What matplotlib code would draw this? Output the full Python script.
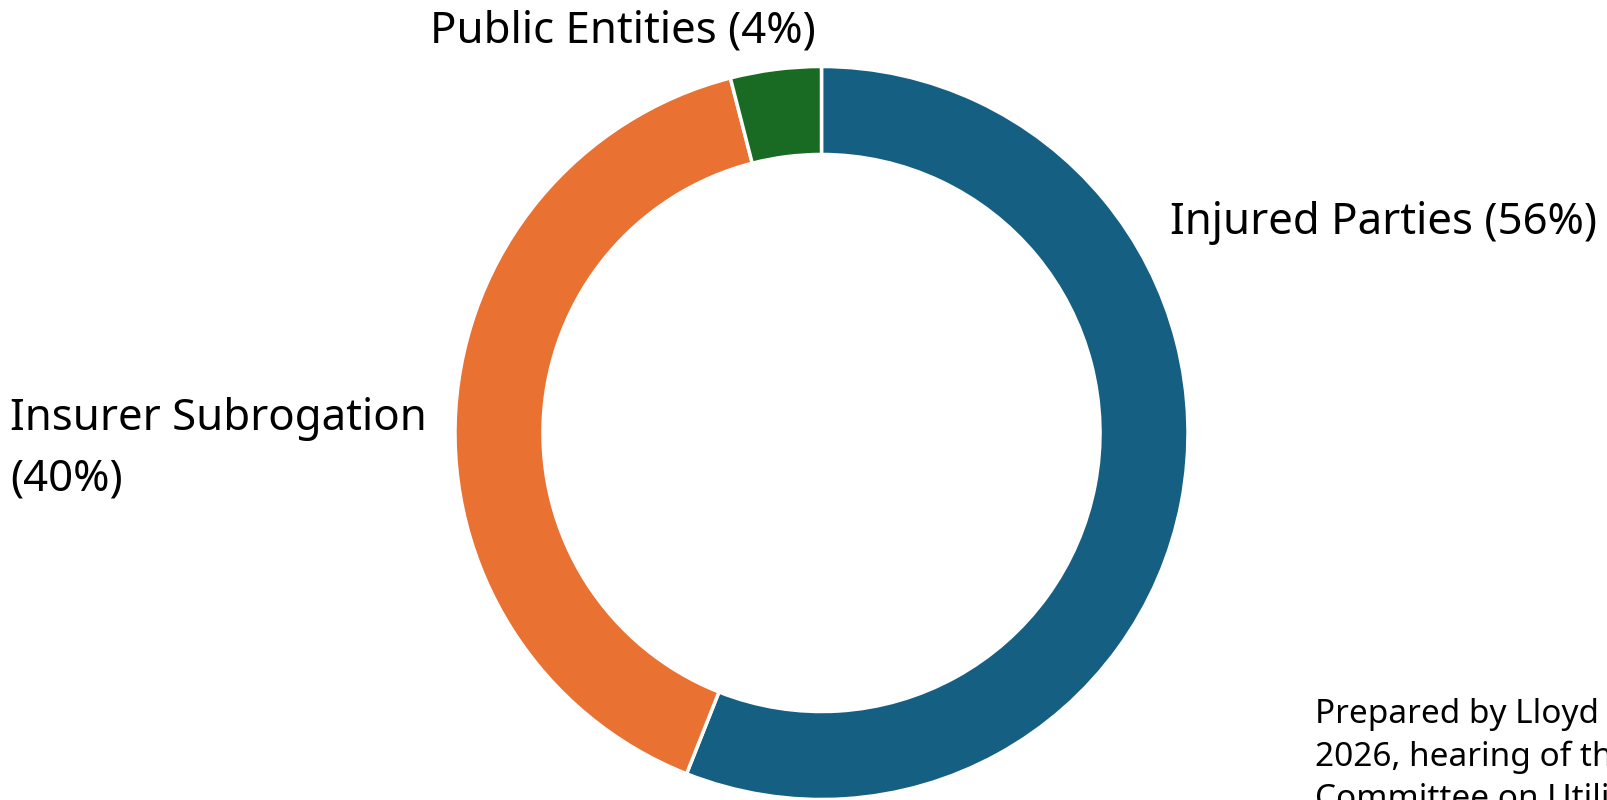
import matplotlib
matplotlib.use("Agg")
import matplotlib.pyplot as plt

W, H = 1607, 800

labels = ["Injured Parties (56%)", "Insurer Subrogation\n(40%)", "Public Entities (4%)"]
shares = [56, 40, 4]
colors = ["#156082", "#E97132", "#196B24"]
# the note runs off the right and bottom edges in the original
note = ("Prepared by Lloyd Dixon for the February\n"
        "2026, hearing of the Senate\n"
        "Committee on Utilities and Energy")

plt.rcParams["font.family"] = ["Noto Sans", "DejaVu Sans"]

fig = plt.figure(figsize=(W / 100, H / 100), dpi=100)

# donut centre and radius in pixels
cx, cy, r = 821.5, 433, 366.5
ax = fig.add_axes([(cx - r) / W, 1 - (cy + r) / H, 2 * r / W, 2 * r / H])
ax.pie(
    shares,
    colors=colors,
    startangle=90,
    counterclock=False,
    radius=1,
    wedgeprops=dict(width=0.24, edgecolor="white", linewidth=2.5),
)
ax.set_xlim(-1, 1)
ax.set_ylim(-1, 1)
ax.set_aspect("equal")
ax.axis("off")


def px(x, y):
    return x / W, 1 - y / H


fs = 31.5
fig.text(*px(623, 43), labels[2], fontsize=fs, ha="center", va="baseline")
fig.text(*px(1170, 234), labels[0], fontsize=fs, ha="left", va="baseline")
# baseline refers to the last line of a multi-line text
fig.text(*px(10, 490), labels[1], fontsize=fs, ha="left", va="baseline",
         linespacing=1.5)
fig.text(*px(1315, 808), note, fontsize=24, ha="left", va="baseline",
         linespacing=1.37)

fig.savefig("out.png", dpi=100)
